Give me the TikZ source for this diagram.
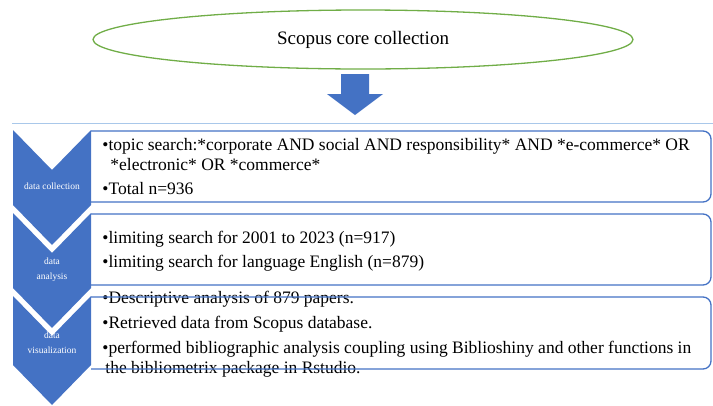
\documentclass[tikz,border=0pt]{standalone}
\usepackage{fontspec}
\setmainfont{Liberation Serif}
\usepackage{tikz}
\usetikzlibrary{shapes.geometric}
\definecolor{chevblue}{HTML}{4472C4}
\definecolor{ovalgreen}{HTML}{70AD47}
\definecolor{lineblue}{HTML}{A9C8EA}

\begin{document}
\begin{tikzpicture}[x=1pt,y=-1pt,thick,
  item/.style={anchor=base west,inner sep=0pt,font=\fontsize{17.5}{20}\selectfont},
  tag/.style={text=white,align=center,inner sep=0pt,font=\fontsize{9.5}{15}\selectfont},
  chev/.style={fill=chevblue},
  panel/.style={draw=chevblue,line width=1.3pt,rounded corners=8pt}]
\useasboundingbox (0,0) rectangle (713,405);

% source
\node[draw=ovalgreen,line width=1.3pt,ellipse,minimum width=540pt,minimum height=59pt,inner sep=0pt,
  font=\fontsize{19}{22}\selectfont] (core) at (363,39.5) {Scopus core collection};
\fill[chev] (341,74) -- (369,74) -- (369,94) -- (383,94) -- (355,115) -- (327,94) -- (341,94) -- cycle;
\draw[lineblue,line width=0.8pt] (12,123) -- (713,123);

% chevrons
\fill[chev] (13,130) -- (52,170) -- (91,130) -- (91,205) -- (52,245) -- (13,205) -- cycle;
\fill[chev] (13,213) -- (52,253) -- (91,213) -- (91,288) -- (52,328) -- (13,288) -- cycle;
\fill[chev] (13,296) -- (52,336) -- (91,296) -- (91,365) -- (52,405) -- (13,365) -- cycle;

\node[tag] (stage1) at (52,186) {data collection};
\node[tag] (stage2) at (52,269.5) {data\\analysis};
\node[tag] (stage3) at (52,342.5) {data\\visualization};

% texts
\node[item] (col1) at (102,150) {•topic search:*corporate AND social AND responsibility* AND *e-commerce* OR};
\node[item] (col2) at (110,170) {*electronic* OR *commerce*};
\node[item] (col3) at (102,194) {•Total n=936};
\node[item] (ana1) at (102,243) {•limiting search for 2001 to 2023 (n=917)};
\node[item] (ana2) at (102,267) {•limiting search for language English (n=879)};
\node[item] (vis1) at (102,303) {•Descriptive analysis of 879 papers.};
\node[item] (vis2) at (102,328) {•Retrieved data from Scopus database.};
\node[item] (vis3) at (102,353) {•performed bibliographic analysis coupling using Biblioshiny and other functions in};
\node[item] (vis4) at (105,373) {the bibliometrix package in Rstudio.};

% boxes
\draw[panel] (91,131) -- (711,131) -- (711,202) -- (91,202);
\draw[panel] (91,214) -- (711,214) -- (711,285) -- (91,285);
\draw[panel] (91,297) -- (711,297) -- (711,369) -- (91,369);
\end{tikzpicture}
\end{document}
